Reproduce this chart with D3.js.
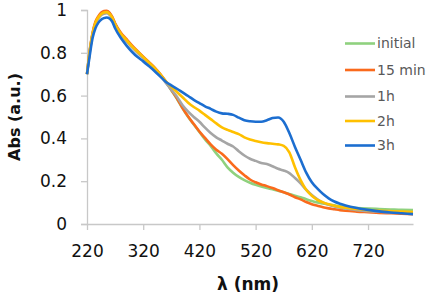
<!DOCTYPE html>
<html><head><meta charset="utf-8">
<script src="https://cdn.jsdelivr.net/npm/d3@7"></script>
<style>body{margin:0;background:#fff}svg{display:block}</style>
</head><body>
<svg id="c" width="429" height="295"></svg>
<script>
const wavelengths = [220,225,230,235,240,245,250,255,260,265,270,280,290,300,310,320,330,340,350,360,370,380,390,400,410,420,430,440,450,460,470,480,490,500,510,520,530,540,550,560,570,580,590,600,610,620,630,640,650,660,670,680,700,720,740,760,780,800];
const seriesNames = ["initial","15 min","1h","2h","3h"];
const seriesColors = ["#8fd17e","#fa6a1c","#a5a5a5","#ffc000","#1c6ed0"];
const initial = [0.70,0.81,0.89,0.94,0.965,0.982,0.99,0.993,0.985,0.965,0.935,0.89,0.86,0.83,0.805,0.78,0.755,0.73,0.70,0.665,0.625,0.585,0.54,0.50,0.465,0.43,0.395,0.365,0.33,0.30,0.265,0.24,0.22,0.205,0.193,0.183,0.175,0.168,0.162,0.155,0.148,0.14,0.132,0.125,0.116,0.108,0.101,0.096,0.091,0.087,0.083,0.08,0.075,0.072,0.07,0.068,0.066,0.065];
const min15 = [0.70,0.815,0.895,0.945,0.97,0.987,0.995,0.996,0.988,0.968,0.938,0.895,0.865,0.835,0.808,0.782,0.757,0.732,0.702,0.667,0.627,0.587,0.542,0.502,0.467,0.432,0.402,0.372,0.347,0.328,0.303,0.275,0.25,0.228,0.208,0.195,0.185,0.177,0.168,0.158,0.148,0.138,0.125,0.115,0.103,0.092,0.085,0.078,0.073,0.069,0.065,0.062,0.058,0.055,0.052,0.05,0.048,0.046];
const h1 = [0.70,0.805,0.885,0.935,0.96,0.975,0.983,0.985,0.978,0.96,0.93,0.885,0.855,0.825,0.8,0.775,0.75,0.725,0.695,0.66,0.628,0.595,0.555,0.525,0.50,0.478,0.45,0.425,0.405,0.39,0.375,0.362,0.34,0.32,0.305,0.295,0.285,0.28,0.27,0.258,0.25,0.238,0.215,0.19,0.16,0.135,0.115,0.10,0.09,0.082,0.077,0.072,0.065,0.06,0.057,0.055,0.053,0.052];
const h2 = [0.70,0.81,0.89,0.94,0.965,0.98,0.988,0.99,0.982,0.963,0.933,0.89,0.86,0.83,0.805,0.78,0.755,0.73,0.70,0.668,0.642,0.617,0.592,0.567,0.547,0.53,0.51,0.49,0.47,0.452,0.44,0.43,0.42,0.405,0.395,0.388,0.382,0.378,0.375,0.372,0.365,0.335,0.265,0.205,0.16,0.132,0.113,0.101,0.092,0.085,0.08,0.076,0.07,0.065,0.062,0.06,0.058,0.056];
const h3 = [0.70,0.79,0.87,0.915,0.94,0.955,0.962,0.965,0.96,0.945,0.915,0.87,0.835,0.805,0.78,0.76,0.738,0.715,0.69,0.665,0.648,0.632,0.615,0.598,0.58,0.565,0.55,0.538,0.525,0.517,0.515,0.51,0.497,0.485,0.48,0.478,0.478,0.485,0.495,0.498,0.478,0.425,0.36,0.30,0.24,0.195,0.165,0.14,0.12,0.105,0.095,0.087,0.075,0.066,0.059,0.054,0.05,0.046];
const seriesValues = [initial, min15, h1, h2, h3];
const xTicks = [220,320,420,520,620,720];
const yTicks = [0,0.2,0.4,0.6,0.8,1];

const svg = d3.select("#c");
const x = d3.scaleLinear().domain([220,800]).range([87,413]);
const y = d3.scaleLinear().domain([0,1]).range([224,10]);
const axisColor = "#c8c8c8";
const font = "DejaVu Sans, sans-serif";

// Y axis
const ya = svg.append("g").attr("transform","translate(87,0)")
  .call(d3.axisLeft(y).tickValues(yTicks).tickSize(6).tickPadding(14).tickFormat(d=>d3.format("")(+d.toFixed(1))));
ya.select(".domain").attr("stroke",axisColor).attr("stroke-width",1.3);
ya.selectAll(".tick line").attr("stroke",axisColor).attr("stroke-width",1.3);
ya.selectAll(".tick text").attr("font-family",font).attr("font-size",17).attr("fill","#111");

// X axis
const xa = svg.append("g").attr("transform","translate(0,224)")
  .call(d3.axisBottom(x).tickValues(xTicks).tickSize(6).tickPadding(15).tickSizeOuter(0));
xa.select(".domain").attr("stroke",axisColor).attr("stroke-width",1.3);
xa.selectAll(".tick line").attr("stroke",axisColor).attr("stroke-width",1.3);
xa.selectAll(".tick text").attr("font-family",font).attr("font-size",17).attr("fill","#111");

// Lines
const line = d3.line().x((d,i)=>x(wavelengths[i])).y(d=>y(d)).curve(d3.curveMonotoneX);
seriesValues.forEach((vals,k)=>{
  svg.append("path").datum(vals).attr("d",line).attr("fill","none")
    .attr("stroke",seriesColors[k]).attr("stroke-width",2.6).attr("stroke-linejoin","round");
});

// Legend
const legY = [43.5,70,96.5,121,145.5];
seriesNames.forEach((n,k)=>{
  svg.append("line").attr("x1",345).attr("x2",375).attr("y1",legY[k]).attr("y2",legY[k])
    .attr("stroke",seriesColors[k]).attr("stroke-width",2.6);
  svg.append("text").attr("x",377).attr("y",legY[k]).attr("dy","0.35em")
    .attr("font-family",font).attr("font-size",14).attr("fill","#595959").text(n);
});

// Axis titles
svg.append("text").attr("transform","translate(14,117) rotate(-90)").attr("text-anchor","middle")
  .attr("dy","0.35em").attr("font-family",font).attr("font-weight","bold").attr("font-size",16)
  .attr("fill","#111").text("Abs (a.u.)");
svg.append("text").attr("x",248).attr("y",290).attr("text-anchor","middle")
  .attr("font-family",font).attr("font-weight","bold").attr("font-size",17)
  .attr("fill","#111").text("λ (nm)");
</script>
</body></html>
